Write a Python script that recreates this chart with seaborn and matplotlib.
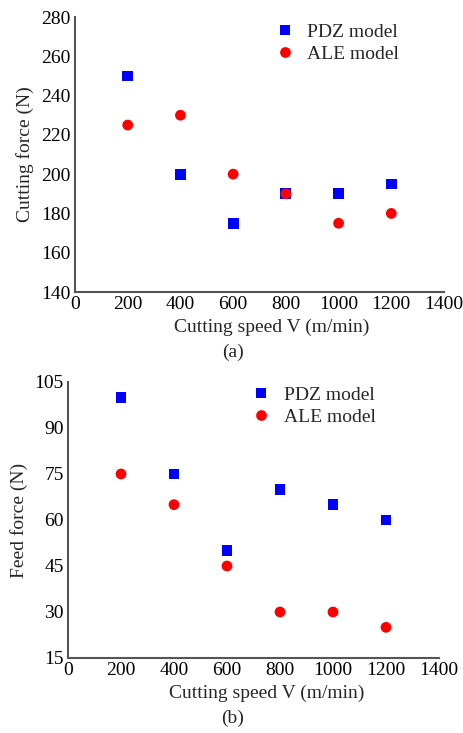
import matplotlib
matplotlib.use("Agg")
import matplotlib.pyplot as plt
import seaborn as sns
import pandas as pd

speeds = [200, 400, 600, 800, 1000, 1200]
cut_pdz = [250, 200, 175, 190, 190, 195]
cut_ale = [225, 230, 200, 190, 175, 180]
feed_pdz = [100, 75, 50, 70, 65, 60]
feed_ale = [75, 65, 45, 30, 30, 25]
models = ["PDZ model", "ALE model"]
x_ticks = [0, 200, 400, 600, 800, 1000, 1200, 1400]
cut_ticks = [140, 160, 180, 200, 220, 240, 260, 280]
feed_ticks = [15, 30, 45, 60, 75, 90, 105]

sns.set_theme(style="white")
plt.rcParams["font.family"] = ["Liberation Serif", "DejaVu Serif"]

def make_df(pdz, ale):
    return pd.DataFrame({
        "speed": speeds * 2,
        "force": list(pdz) + list(ale),
        "model": [models[0]] * len(speeds) + [models[1]] * len(speeds),
    })

fig = plt.figure(figsize=(4.64, 7.33), dpi=100)
ax1 = fig.add_axes([75/464, 1-292/733, (444-75)/464, 275/733])
ax2 = fig.add_axes([68/464, 1-658/733, (439-68)/464, 276/733])

palette = {models[0]: "#0000ff", models[1]: "#ff0000"}
markers = {models[0]: "s", models[1]: "o"}
FS = 14

def draw(ax, df, yticks, ylabel, tag_xy, tag, legend_anchor, xlab_x):
    sns.scatterplot(data=df, x="speed", y="force", hue="model", style="model",
                    palette=palette, markers=markers, s=60, linewidth=0,
                    ax=ax, legend=True)
    ax.set_xlim(0, 1400)
    ax.set_ylim(yticks[0], yticks[-1])
    ax.set_xticks(x_ticks)
    ax.set_yticks(yticks)
    ax.tick_params(direction="in", length=5, width=1.2, labelsize=FS,
                   colors="#333333", labelcolor="black", pad=3)
    for sp in ["top", "right"]:
        ax.spines[sp].set_visible(False)
    for sp in ["left", "bottom"]:
        ax.spines[sp].set_color("#555555")
        ax.spines[sp].set_linewidth(1.5)
    ax.set_xlabel("Cutting speed V (m/min)", fontsize=FS)
    ax.xaxis.set_label_coords(xlab_x, -0.097)
    ax.set_ylabel(ylabel, fontsize=FS, labelpad=5)
    fig.text(tag_xy[0] / 464, 1 - tag_xy[1] / 733, tag, ha="center", va="center",
             fontsize=FS)
    ax.legend(loc="upper left", bbox_to_anchor=legend_anchor, frameon=False,
              fontsize=FS, handletextpad=0.55, labelspacing=0.22,
              borderaxespad=0, handlelength=1.2)

draw(ax1, make_df(cut_pdz, cut_ale), cut_ticks, "Cutting force (N)",
     (233, 352), "(a)", (0.516, 1.004), 0.532)
draw(ax2, make_df(feed_pdz, feed_ale), feed_ticks, "Feed force (N)",
     (233, 718), "(b)", (0.469, 1.013), 0.535)

fig.savefig("out.png", dpi=100)
